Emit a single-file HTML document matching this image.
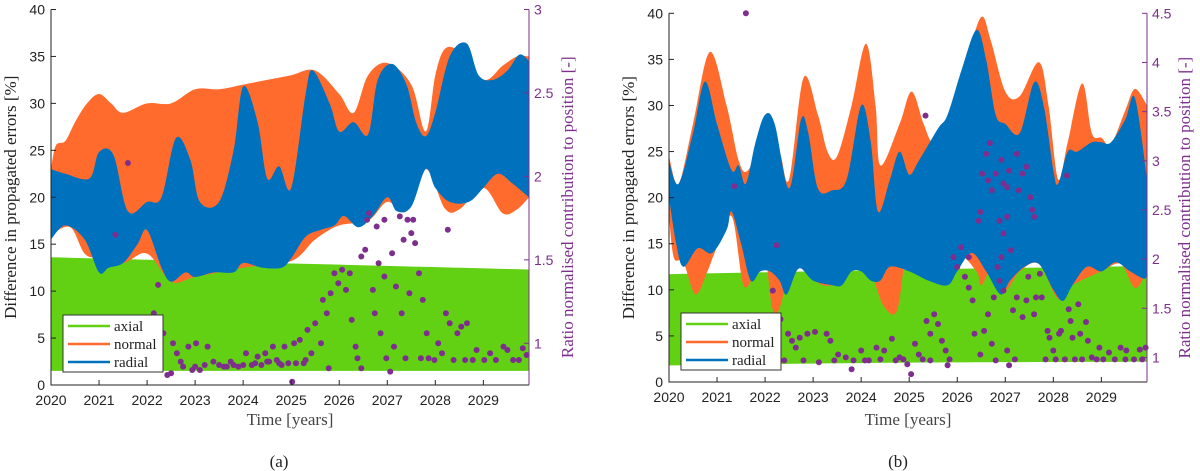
<!DOCTYPE html>
<html><head><meta charset="utf-8">
<style>
html,body{margin:0;padding:0;background:#fff;}
svg{display:block;}
</style></head>
<body>
<svg id="chart" width="1200" height="471" viewBox="0 0 1200 471" xmlns="http://www.w3.org/2000/svg"></svg>
<script>
// ---------- Panel (a) data ----------
const aAxialT=[2020,2029.95];
const aAxialHi=[13.6,12.3];
const aAxialLo=[1.5,1.5];
const aNormHiT=[2020,2020.1,2020.3,2020.5,2020.75,2021,2021.25,2021.5,2022,2022.5,2023,2023.5,2024,2024.5,2025,2025.5,2026,2026.3,2026.6,2027,2027.5,2027.8,2028,2028.2,2028.5,2029,2029.4,2029.7,2029.95];
const aNormHi=[23,25.5,26,28,30,31,30,29,30,30,31.5,31.5,32,32.5,33,33.5,31,29,33,34.3,32,27,33,35.8,35.5,32.5,34,35,35];
const aNormLoT=[2020,2020.4,2020.7,2021,2021.5,2022,2022.5,2023,2024,2025,2025.5,2026,2026.6,2027,2027.4,2027.8,2028.2,2028.5,2029,2029.4,2029.7,2029.95];
const aNormLo=[16,16.8,14,13.5,13,14,11,11.5,12.5,13.2,15.5,17,17.5,19.5,18.5,23,18.8,18.7,21,18.3,18.7,20];
const aRadHiT=[2020,2020.3,2020.8,2021,2021.3,2021.6,2022,2022.3,2022.6,2022.9,2023.1,2023.5,2023.8,2024,2024.3,2024.5,2024.75,2025,2025.3,2025.45,2025.8,2026,2026.3,2026.6,2026.8,2027.1,2027.4,2027.6,2027.8,2028,2028.3,2028.65,2028.9,2029.2,2029.5,2029.75,2029.95];
const aRadHi=[23,22.5,22,24.8,24.5,18.5,19.5,20,26.3,24,19.5,19.5,25,31.8,28,22,23.3,21,31,33.5,30,27,28,26.7,32.5,34.2,32,28,26.5,29,35,36.4,33,32.5,33.5,35.2,34.5];
const aRadLoT=[2020,2020.3,2020.7,2021,2021.2,2021.5,2021.8,2022,2022.3,2022.5,2022.8,2023,2023.4,2023.8,2024,2024.4,2024.8,2025,2025.3,2025.6,2025.9,2026.1,2026.4,2026.7,2027,2027.2,2027.5,2027.8,2028,2028.3,2028.7,2029,2029.3,2029.6,2029.95];
const aRadLo=[15.5,17,15.5,12,12.5,13,15,16.5,12.5,11,12,11.5,12,12,13,12.5,12.5,13.5,15.8,16.5,17,18,16.8,18,20,18.5,19,23,21,19.5,19.5,21,22.5,21.5,20];
const aDotT=[2021.6,2021.34,2022.23,2022.14,2022.34,2022.42,2022.5,2022.54,2022.62,2022.7,2022.86,2022.94,2023.02,2023.1,2023.26,2023.38,2023.5,2023.66,2023.74,2023.9,2024.06,2024.18,2024.3,2024.38,2024.46,2024.54,2024.62,2024.7,2024.86,2024.94,2025.02,2025.06,2025.18,2025.26,2025.34,2025.42,2025.5,2025.62,2025.66,2025.74,2025.78,2025.82,2025.9,2025.98,2026.06,2026.14,2026.22,2026.26,2026.34,2026.38,2026.46,2026.46,2026.54,2026.58,2026.62,2026.7,2026.74,2026.78,2026.82,2026.86,2026.94,2026.94,2026.98,2027.06,2027.1,2027.14,2027.18,2027.26,2027.3,2027.34,2027.38,2027.42,2027.46,2027.5,2027.54,2027.58,2027.66,2027.7,2027.74,2027.82,2027.86,2027.98,2028.06,2028.14,2028.22,2028.26,2028.3,2028.38,2028.46,2028.54,2028.62,2028.66,2028.78,2028.86,2029.02,2029.14,2029.26,2029.42,2029.5,2029.62,2029.74,2029.82,2029.9,2023.0,2023.2,2023.6,2023.8,2024.0,2024.25,2024.5,2024.75,2024.8,2025.1,2025.3,2022.75];
const aDotV=[2.08,1.65,1.35,1.18,1.06,0.81,0.82,1.00,0.94,0.89,0.98,0.84,1.00,0.84,0.98,0.89,0.87,0.86,0.89,0.86,0.94,0.87,0.92,0.87,0.94,0.89,0.98,0.90,0.98,0.88,0.77,1.00,1.02,0.88,1.08,0.94,1.12,1.00,1.26,1.18,0.85,1.30,1.42,1.36,1.44,1.32,1.42,1.14,0.98,0.91,1.52,0.85,1.56,1.74,1.78,1.32,1.18,1.70,1.48,1.06,1.74,1.40,0.91,0.83,1.54,0.98,1.34,1.76,1.18,1.62,0.91,1.74,1.30,1.66,1.74,1.60,1.42,0.91,1.26,1.06,0.91,0.90,1.00,0.94,1.18,1.68,1.12,0.90,1.06,1.10,0.90,1.12,0.90,0.96,0.90,0.94,0.90,0.98,0.96,0.90,0.90,0.97,0.93,0.86,0.87,0.86,0.87,0.87,0.88,0.89,0.88,0.87,0.88,0.90,0.86];
// ---------- Panel (b) data ----------
const bAxialT=[2020,2025,2029.95];
const bAxialHi=[11.7,12.2,12.6];
const bAxialLo=[1.8,2.1,2.2];
const bNormHiT=[2020,2020.2,2020.5,2020.85,2021.2,2021.45,2021.65,2022,2022.3,2022.5,2022.8,2023.1,2023.3,2023.5,2023.8,2024.1,2024.3,2024.4,2024.8,2025.05,2025.3,2025.5,2025.8,2026.2,2026.5,2026.7,2027,2027.3,2027.7,2027.9,2028.1,2028.3,2028.6,2028.8,2029,2029.2,2029.5,2029.7,2029.95];
const bNormHi=[24.5,21.5,28,35.8,30,24,23,27,25,22,33,29,25,24.5,30,36.7,30,23.5,28,31.5,28,26,28,35,39.6,37,31.5,31,34.7,30,22,26,32.4,27,26.5,25.8,29.5,31.8,30];
const bNormLoT=[2020,2020.1,2020.3,2020.55,2020.8,2020.95,2021.3,2021.55,2021.8,2022,2022.15,2022.3,2022.6,2022.85,2023,2023.2,2023.6,2023.8,2024,2024.3,2024.5,2024.75,2024.95,2025.2,2025.6,2026,2026.4,2026.5,2026.7,2027,2027.3,2027.7,2028.1,2028.4,2029,2029.4,2029.7,2029.95];
const bNormLo=[18,13.5,13,9.5,12,14,18,10.5,12,13.5,8,8,14,17,12,10.5,11,13.5,15.8,10.5,8,7.8,14,12,11,13.8,12,10.5,12,10,12,12.8,9,10.5,12,12.8,10.2,12];
const bRadHiT=[2020,2020.2,2020.5,2020.75,2021,2021.3,2021.45,2021.6,2021.8,2022,2022.2,2022.5,2022.75,2022.9,2023.1,2023.4,2023.7,2024,2024.2,2024.35,2024.6,2024.8,2025,2025.2,2025.6,2025.8,2026.1,2026.4,2026.6,2026.8,2027,2027.3,2027.6,2027.8,2028,2028.1,2028.3,2028.5,2028.8,2029,2029.2,2029.5,2029.7,2029.95];
const bRadHi=[24,21.5,27,32.6,28,23,23.5,21.5,26,29,28,21,28.5,27,21,20.8,22,30,26,18.5,22,25,22.5,24,27.5,29,34,38.2,35,29,28,27,32.5,30,23,21.5,25,25,26,26,26,28.5,30.8,22];
const bRadLoT=[2020,2020.15,2020.3,2020.6,2020.9,2021.2,2021.3,2021.5,2021.7,2021.9,2022.1,2022.3,2022.45,2022.7,2023,2023.4,2023.6,2023.8,2024,2024.2,2024.4,2024.6,2025,2025.4,2025.8,2026,2026.3,2026.6,2026.9,2027.1,2027.4,2027.7,2028,2028.2,2028.4,2028.7,2029,2029.3,2029.6,2029.9,2029.95];
const bRadLo=[20,15,12.5,14.5,14,16.5,18.5,15,11,12,12,11,9.5,12.3,11,10.5,10.5,12,12,11,11,12.5,12,11,10.5,12,14,12,9.5,11,12.5,12.8,10,8.8,10.5,12.5,12,13,12,11.2,12];
const bDotT=[2021.6,2025.34,2021.36,2022.24,2022.16,2022.32,2022.48,2022.56,2022.64,2022.72,2022.88,2023.04,2023.28,2023.36,2023.52,2023.68,2023.8,2024.0,2024.16,2024.32,2024.48,2024.64,2024.8,2024.96,2025.04,2025.12,2025.2,2025.36,2025.44,2025.52,2025.6,2025.68,2025.76,2025.84,2025.8,2025.92,2026.0,2026.08,2026.16,2026.24,2026.24,2026.32,2026.36,2026.48,2026.44,2026.48,2026.52,2026.6,2026.68,2026.64,2026.72,2026.8,2026.92,2026.96,2027.04,2027.08,2027.24,2027.28,2027.36,2027.44,2027.52,2027.56,2027.6,2026.88,2026.96,2027.04,2027.12,2026.92,2026.84,2026.88,2026.96,2026.76,2026.64,2026.56,2026.72,2026.8,2027.04,2027.08,2027.2,2027.16,2027.24,2027.36,2027.44,2027.48,2027.6,2027.64,2027.72,2027.76,2027.84,2027.88,2027.92,2028.0,2028.12,2028.16,2028.24,2028.28,2028.32,2028.36,2028.4,2028.52,2028.56,2028.68,2028.72,2028.8,2028.96,2029.04,2029.16,2029.28,2029.4,2029.52,2029.68,2029.8,2029.92,2022.4,2022.8,2023.12,2023.44,2023.84,2024.08,2024.4,2024.72,2024.88,2025.28,2025.44,2028.05,2028.45,2028.6,2028.9,2029.5,2029.85];
const bDotV=[4.5,3.46,2.74,2.14,1.68,1.39,1.24,1.17,1.10,1.20,1.24,1.26,1.24,1.17,1.03,1.00,0.88,1.07,0.97,1.10,1.07,1.19,1.00,0.93,0.83,1.14,1.03,1.37,1.24,1.44,1.34,1.17,1.07,0.98,0.92,2.02,1.92,2.12,1.82,2.02,1.71,1.58,1.24,1.03,2.39,2.48,2.87,3.07,3.18,2.80,2.70,2.87,3.01,2.77,2.73,2.90,3.07,2.70,2.87,2.94,2.63,2.50,2.43,2.39,2.26,2.43,2.09,2.02,1.92,1.78,1.68,1.61,1.44,1.27,1.14,0.97,1.07,0.92,0.98,1.48,1.61,1.41,1.58,1.82,1.44,1.61,1.85,1.61,0.98,1.27,1.20,1.07,1.24,1.27,0.98,2.85,1.49,1.37,1.20,1.54,1.24,1.36,1.17,1.00,1.10,0.98,1.05,0.98,1.10,1.07,0.98,1.08,1.10,0.97,0.97,0.95,0.97,0.97,0.97,0.98,0.97,0.98,0.98,0.97,0.98,0.98,0.98,0.98,0.98,0.98];
// tick labels
const yearTicks=[2020,2021,2022,2023,2024,2025,2026,2027,2028,2029];
const leftTicks=[0,5,10,15,20,25,30,35,40];
const aRightTicks=[1,1.5,2,2.5,3];
const bRightTicks=[1,1.5,2,2.5,3,3.5,4,4.5];

const NS='http://www.w3.org/2000/svg';
const svg=document.getElementById('chart');
function mk(tag,attrs,parent){const e=document.createElementNS(NS,tag);for(const k in attrs)e.setAttribute(k,attrs[k]);(parent||svg).appendChild(e);return e;}
const GREEN='#62d114',ORANGE='#ff6b2c',BLUE='#0072bd',PURPLE='#7e2f8e';
const SANS='"Liberation Sans", sans-serif';
const SERIF='"Liberation Serif", serif';

function smoothPath(pts){
  let d='M'+pts[0][0].toFixed(1)+','+pts[0][1].toFixed(1);
  for(let i=0;i<pts.length-1;i++){
    const p0=pts[Math.max(0,i-1)],p1=pts[i],p2=pts[i+1],p3=pts[Math.min(pts.length-1,i+2)];
    const c1=[p1[0]+(p2[0]-p0[0])/6,p1[1]+(p2[1]-p0[1])/6];
    const c2=[p2[0]-(p3[0]-p1[0])/6,p2[1]-(p3[1]-p1[1])/6];
    d+='C'+c1[0].toFixed(1)+','+c1[1].toFixed(1)+' '+c2[0].toFixed(1)+','+c2[1].toFixed(1)+' '+p2[0].toFixed(1)+','+p2[1].toFixed(1);
  }
  return d;
}
function band(g,X,Y,tHi,vHi,tLo,vLo,color,name){
  const hi=tHi.map((t,i)=>[X(t),Y(vHi[i])]);
  const lo=tLo.map((t,i)=>[X(t),Y(vLo[i])]).reverse();
  let d=smoothPath(hi)+'L'+smoothPath(lo).slice(1)+'Z';
  const p=mk('path',{d:d,fill:color,stroke:'none'},g);
  
  
}

function panel(cfg){
  const g=mk('g',{});
  
  
  const X=t=>cfg.x0+(t-2020)/9.95*(cfg.x1-cfg.x0);
  const Y=v=>cfg.yb-(v/40)*(cfg.yb-cfg.yt);
  const R=v=>cfg.yb-(v-0.75)/(cfg.rmax-0.75)*(cfg.yb-cfg.yt);
  band(g,X,Y,cfg.axT,cfg.axHi,cfg.axT,cfg.axLo,GREEN,'axial-band');
  band(g,X,Y,cfg.nHiT,cfg.nHi,cfg.nLoT,cfg.nLo,ORANGE,'normal-band');
  band(g,X,Y,cfg.rHiT,cfg.rHi,cfg.rLoT,cfg.rLo,BLUE,'radial-band');
  cfg.dT.forEach((t,i)=>{
    const c=mk('circle',{cx:X(t).toFixed(1),cy:R(cfg.dV[i]).toFixed(1),r:3,fill:PURPLE},g);
    
    
  });
  const ax=mk('path',{d:`M${cfg.x0},${cfg.yt}V${cfg.yb}H${cfg.x1}`,stroke:'#222',fill:'none','stroke-width':1},g);
  
  
  const rax=mk('line',{x1:cfg.x1,y1:cfg.yt,x2:cfg.x1,y2:cfg.yb,stroke:PURPLE,'stroke-width':1},g);
  
  
  yearTicks.forEach(yr=>{
    const x=X(yr);
    mk('line',{x1:x,y1:cfg.yb,x2:x,y2:cfg.yb-5,stroke:'#222'},g);
    const t=mk('text',{x:x,y:cfg.yb+20,'text-anchor':'middle','font-family':SANS,'font-size':14,fill:'#222'},g);
    t.textContent=yr;
    
    
  });
  leftTicks.forEach(v=>{
    const y=Y(v);
    mk('line',{x1:cfg.x0,y1:y,x2:cfg.x0+5,y2:y,stroke:'#222'},g);
    const t=mk('text',{x:cfg.x0-6,y:y+5,'text-anchor':'end','font-family':SANS,'font-size':14,fill:'#222'},g);
    t.textContent=v;
    
    
  });
  cfg.rTicks.forEach(v=>{
    const y=R(v);
    mk('line',{x1:cfg.x1,y1:y,x2:cfg.x1-5,y2:y,stroke:PURPLE},g);
    const t=mk('text',{x:cfg.x1+5,y:y+5,'text-anchor':'start','font-family':SANS,'font-size':14,fill:PURPLE},g);
    t.textContent=v;
    
    
  });
  const mid=(cfg.yt+cfg.yb)/2;
  const yl=mk('text',{x:0,y:0,transform:`translate(${cfg.ylx},${mid}) rotate(-90)`,'text-anchor':'middle','font-family':SERIF,'font-size':17,fill:'#222'},g);
  yl.textContent='Difference in propagated errors [%]';
  
  
  const yr=mk('text',{x:0,y:0,transform:`translate(${cfg.yrx},${mid+10}) rotate(-90)`,'text-anchor':'middle','font-family':SERIF,'font-size':17,fill:PURPLE},g);
  yr.textContent='Ratio normalised contribution to position [-]';
  
  
  const xl=mk('text',{x:(cfg.x0+cfg.x1)/2,y:425,'text-anchor':'middle','font-family':SERIF,'font-size':17,fill:'#444'},g);
  xl.textContent='Time [years]';
  
  
  const cap=mk('text',{x:cfg.capx,y:467,'text-anchor':'middle','font-family':SERIF,'font-size':17,fill:'#222'},g);
  cap.textContent=cfg.cap;
  
  
  const lg=mk('g',{},g);
  
  
  mk('rect',{x:cfg.lx,y:cfg.ly,width:100,height:57,fill:'#fff',stroke:'#333','stroke-width':1},lg);
  [['axial',GREEN],['normal',ORANGE],['radial',BLUE]].forEach((e,i)=>{
    const yy=cfg.ly+11+i*18;
    mk('line',{x1:cfg.lx+5,y1:yy,x2:cfg.lx+47,y2:yy,stroke:e[1],'stroke-width':2.5},lg);
    const t=mk('text',{x:cfg.lx+51,y:yy+5,'font-family':SERIF,'font-size':15,fill:'#222'},lg);
    t.textContent=e[0];
    
    
  });
}

panel({id:'a',x0:51,x1:529,yt:9.5,yb:385,rmax:3,rTicks:aRightTicks,
  axT:aAxialT,axHi:aAxialHi,axLo:aAxialLo,nHiT:aNormHiT,nHi:aNormHi,nLoT:aNormLoT,nLo:aNormLo,
  rHiT:aRadHiT,rHi:aRadHi,rLoT:aRadLoT,rLo:aRadLo,dT:aDotT,dV:aDotV,
  ylx:16,yrx:573,capx:279,cap:'(a)',lx:63,ly:315});
panel({id:'b',x0:669,x1:1147,yt:13.3,yb:382,rmax:4.5,rTicks:bRightTicks,
  axT:bAxialT,axHi:bAxialHi,axLo:bAxialLo,nHiT:bNormHiT,nHi:bNormHi,nLoT:bNormLoT,nLo:bNormLo,
  rHiT:bRadHiT,rHi:bRadHi,rLoT:bRadLoT,rLo:bRadLo,dT:bDotT,dV:bDotV,
  ylx:634,yrx:1190,capx:898,cap:'(b)',lx:681,ly:313});
</script>
</body></html>
